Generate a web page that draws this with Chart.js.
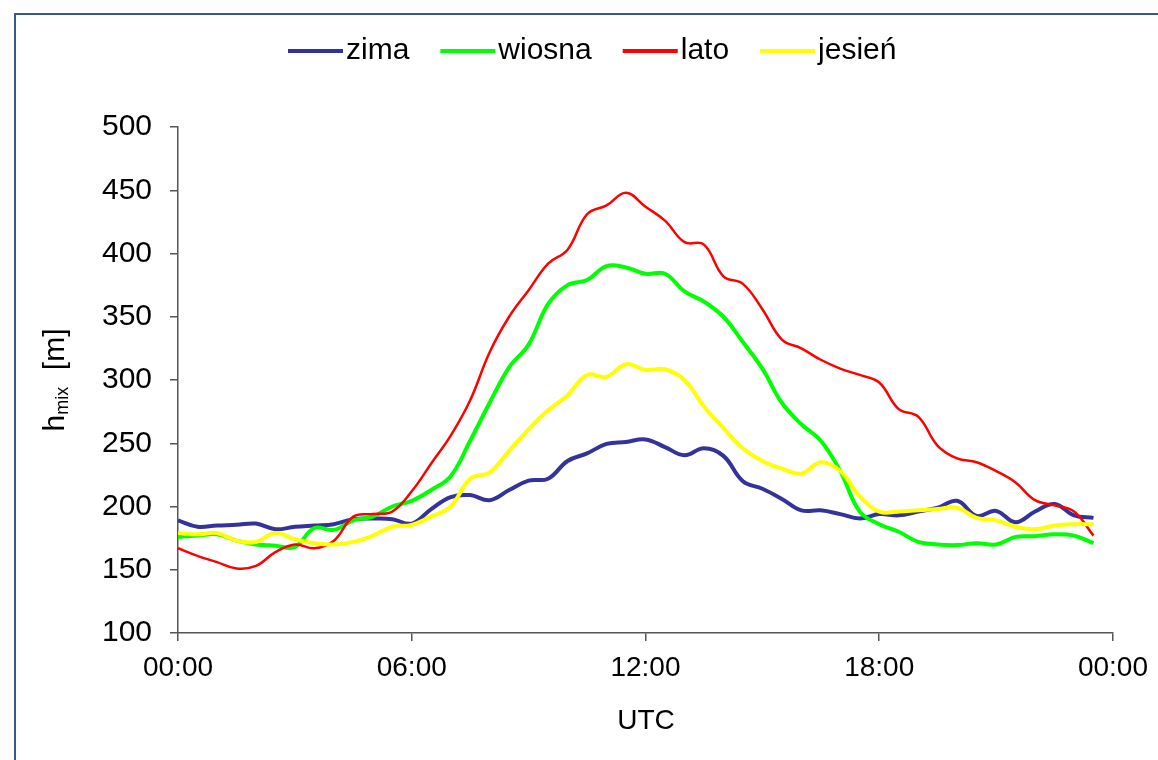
<!DOCTYPE html>
<html>
<head>
<meta charset="utf-8">
<title>hmix</title>
<script src="https://cdn.jsdelivr.net/npm/chart.js@4.4.1/dist/chart.umd.min.js"></script>
<style>
html, body { margin: 0; padding: 0; background: #fff; }
#wrap { position: relative; width: 1158px; height: 760px; overflow: hidden; }
#frame { position: absolute; left: 14px; top: 13px; width: 1300px; height: 900px;
         border-top: 2px solid #36598f; border-left: 2px solid #36598f; }
canvas { position: absolute; left: 0; top: 0; }
</style>
</head>
<body>
<div id="wrap">
  <div id="frame"></div>
  <canvas id="chart" width="1158" height="760"></canvas>
</div>
<script>
// godziny (UTC), co pół godziny
const times = [0, 0.5, 1, 1.5, 2, 2.5, 3, 3.5, 4, 4.5, 5, 5.5,
               6, 6.5, 7, 7.5, 8, 8.5, 9, 9.5, 10, 10.5, 11, 11.5,
               12, 12.5, 13, 13.5, 14, 14.5, 15, 15.5, 16, 16.5, 17, 17.5,
               18, 18.5, 19, 19.5, 20, 20.5, 21, 21.5, 22, 22.5, 23, 23.5];

const xTickLabels = ['00:00', '06:00', '12:00', '18:00', '00:00'];
const seriesNames = ['zima', 'wiosna', 'lato', 'jesień'];
const seriesColors = ['#333399', '#00ff00', '#ff0000', '#ffff00'];

// h_mix [m]
const zima = [189, 184, 185, 185.5, 186.5, 182, 184, 185, 186, 190, 190.5, 190,
              186.5, 198, 207.5, 209, 205, 213, 220.5, 222, 236, 242, 249.5, 251,
              253, 247, 240.5, 246, 240, 220, 214, 206, 197, 197, 194, 190.5,
              194, 193, 196, 199, 204.5, 192.5, 196.5, 187.5, 196, 202, 193, 191];
const wiosna = [176, 177, 178, 173, 170, 169, 168, 183, 181.5, 189, 192, 200,
                204.5, 213, 224, 252, 282, 310, 328, 360, 375, 379, 390, 389,
                384, 384, 370, 362, 350, 330, 309, 282, 265, 252, 228, 196,
                186, 180, 172, 170, 169.5, 171, 170, 176, 176.5, 178, 177, 171];
const lato = [167, 161, 156, 151, 153, 164, 170, 167, 173, 192, 194, 196,
              212, 234, 256, 284, 322, 350, 371, 392, 403, 431, 438, 448,
              437, 426, 409, 407, 382, 376, 356, 332, 325, 316, 309, 304,
              298, 277, 271, 248, 238, 235, 228, 219, 205, 201, 196, 177];
const jesien = [179, 178, 179, 173, 172, 179, 174, 171, 170, 172, 177, 184,
                185.5, 192, 200, 222, 227, 244, 261, 276, 288, 304, 302.5, 312.5,
                308, 308.5, 300, 279, 262, 246, 236, 230, 226, 235, 228, 208,
                196, 196, 197, 198, 199, 191, 189, 184, 182, 185, 186, 186];

const seriesValues = [zima, wiosna, lato, jesien];
const lineWidths = [4, 4, 2.5, 4];

const FONT = 'Arial, "Liberation Sans", sans-serif';
Chart.defaults.font.family = FONT;
Chart.defaults.color = '#000';

// legenda i tytuły osi rysowane ręcznie
const extras = {
    id: 'extras',
    afterDraw(chart) {
        const ctx = chart.ctx;
        ctx.save();

        // legenda
        ctx.font = '30px ' + FONT;
        ctx.textBaseline = 'middle';
        ctx.textAlign = 'left';
        let x = 288;
        const y = 51;
        seriesNames.forEach((name, i) => {
            ctx.strokeStyle = seriesColors[i];
            ctx.lineWidth = 4;
            ctx.beginPath();
            ctx.moveTo(x, y);
            ctx.lineTo(x + 55, y);
            ctx.stroke();
            ctx.fillStyle = '#000';
            ctx.fillText(name, x + 58, y);
            x += 58 + ctx.measureText(name).width + 31;
        });

        // tytuł osi X
        ctx.textAlign = 'center';
        ctx.font = '28px ' + FONT;
        ctx.fillText('UTC', 646, 721);

        // tytuł osi Y: h_mix [m]
        ctx.translate(64, 380);
        ctx.rotate(-Math.PI / 2);
        ctx.textBaseline = 'alphabetic';
        ctx.textAlign = 'left';
        const big = '30px ' + FONT;
        const small = '18px ' + FONT;
        ctx.font = big;
        const wH = ctx.measureText('h').width;
        const wM = ctx.measureText('  [m]').width;
        ctx.font = small;
        const wS = ctx.measureText('mix').width;
        let tx = -(wH + wS + wM) / 2;
        ctx.font = big;
        ctx.fillText('h', tx, 0);
        tx += wH;
        ctx.font = small;
        ctx.fillText('mix', tx, 4);
        tx += wS;
        ctx.font = big;
        ctx.fillText('  [m]', tx, 0);

        ctx.restore();
    }
};

const datasets = seriesNames.map((name, i) => ({
    label: name,
    data: times.map((t, j) => ({ x: t, y: seriesValues[i][j] })),
    borderColor: seriesColors[i],
    backgroundColor: seriesColors[i],
    borderWidth: lineWidths[i],
    pointRadius: 0,
    tension: 0.4,
    fill: false,
    order: seriesNames.length - i
}));

new Chart(document.getElementById('chart'), {
    type: 'line',
    data: { datasets },
    options: {
        responsive: false,
        animation: false,
        layout: { padding: { top: 127, right: 44, left: 0, bottom: 0 } },
        plugins: {
            legend: { display: false },
            tooltip: { enabled: false }
        },
        scales: {
            x: {
                type: 'linear',
                min: 0,
                max: 24,
                ticks: {
                    stepSize: 6,
                    autoSkip: false,
                    maxRotation: 0,
                    padding: 10,
                    font: { size: 28 },
                    callback: (v) => xTickLabels[v / 6]
                },
                grid: { drawOnChartArea: false, tickLength: 8, color: '#555', lineWidth: 1.5 },
                border: { color: '#555', width: 1.5 },
                afterFit: (s) => { s.height = 127; }
            },
            y: {
                min: 100,
                max: 500,
                ticks: { stepSize: 50, padding: 18, font: { size: 30 } },
                grid: { drawOnChartArea: false, tickLength: 8, color: '#555', lineWidth: 1.5 },
                border: { color: '#555', width: 1.5 },
                afterFit: (s) => { s.width = 178; }
            }
        }
    },
    plugins: [extras]
});
</script>
</body>
</html>
